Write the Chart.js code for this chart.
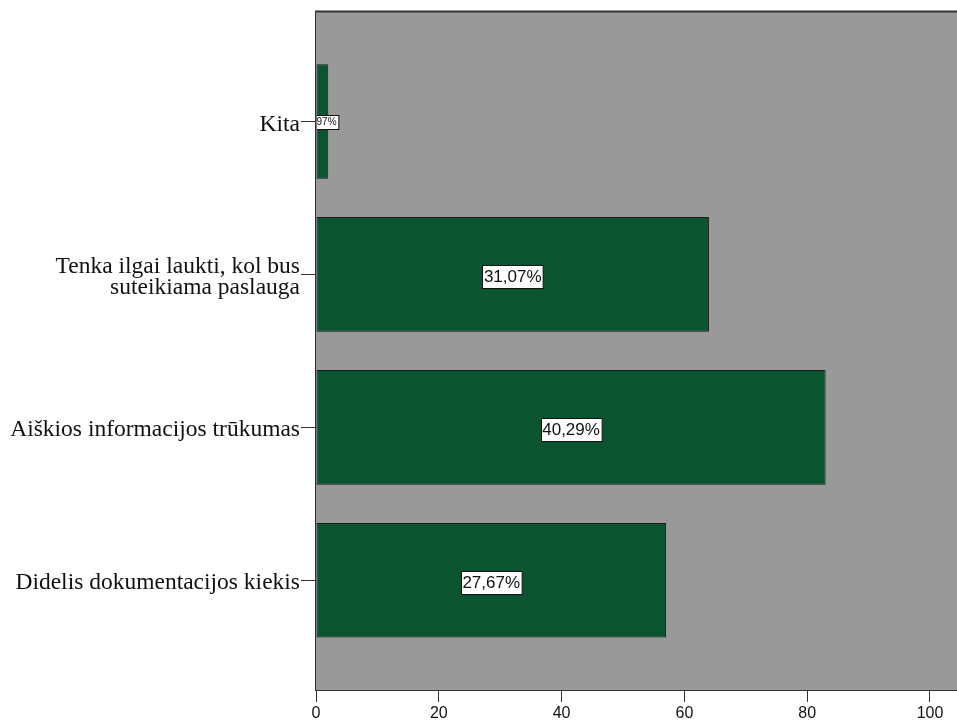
<!DOCTYPE html>
<html>
<head>
<meta charset="utf-8">
<script src="https://cdn.jsdelivr.net/npm/chart.js@4.4.1/dist/chart.umd.min.js"></script>
<style>
  html, body { margin: 0; padding: 0; background: #ffffff; }
  #wrap { width: 957px; height: 723px; }
</style>
</head>
<body>
<div id="wrap"><canvas id="c" width="957" height="723"></canvas></div>
<script>
// Categories top to bottom, respondent counts, x-axis ticks
const categories = [
  'Kita',
  ['Tenka ilgai laukti, kol bus', 'suteikiama paslauga'],
  'Aiškios informacijos trūkumas',
  'Didelis dokumentacijos kiekis'
];
const counts = [2, 64, 83, 57];
const xTicks = [0, 20, 40, 60, 80, 100];

const total = counts.reduce((a, b) => a + b, 0);
const pctLabel = v => (v / total * 100).toFixed(2).replace('.', ',') + '%';

const PLOT_BG = '#999999';
const FRAME = '#333333';

// Gray plot background, top frame line and boxed percentage labels
const plotFrame = {
  id: 'plotFrame',
  beforeDatasetsDraw(chart) {
    const { ctx, chartArea: a } = chart;
    ctx.save();
    ctx.fillStyle = PLOT_BG;
    ctx.fillRect(a.left, a.top, a.right - a.left, a.bottom - a.top);
    ctx.restore();
  },
  afterDatasetsDraw(chart) {
    const { ctx, chartArea: a } = chart;
    const meta = chart.getDatasetMeta(0);
    ctx.save();
    ctx.beginPath();
    ctx.rect(a.left + 1, a.top, a.right - a.left, a.bottom - a.top);
    ctx.clip();
    meta.data.forEach((el, i) => {
      const len = Math.abs(el.x - el.base);
      const fs = len < 40 ? 10 : 17;
      const text = pctLabel(counts[i]);
      ctx.font = fs + 'px "Liberation Sans", Arial, sans-serif';
      const w = ctx.measureText(text).width;
      const h = Math.round(fs * 1.35);
      const cx = (el.x + el.base) / 2;
      const cy = el.y + (fs > 12 ? 2 : 0);
      const bx = Math.round(cx - w / 2 - 1.5) + 0.5;
      const by = Math.round(cy - h / 2) + 0.5;
      ctx.fillStyle = '#ffffff';
      ctx.fillRect(bx, by, w + 3, h);
      ctx.strokeStyle = '#111111';
      ctx.lineWidth = 1;
      ctx.strokeRect(bx, by, w + 3, h);
      ctx.fillStyle = '#111111';
      ctx.textAlign = 'center';
      ctx.textBaseline = 'middle';
      ctx.fillText(text, cx, cy + 1);
    });
    ctx.restore();
  },
  afterDraw(chart) {
    const { ctx, chartArea: a } = chart;
    ctx.save();
    ctx.strokeStyle = FRAME;
    ctx.lineWidth = 2;
    ctx.beginPath();
    ctx.moveTo(a.left - 1, a.top);
    ctx.lineTo(a.right, a.top);
    ctx.stroke();
    ctx.restore();
  }
};

new Chart(document.getElementById('c'), {
  type: 'bar',
  data: {
    datasets: [{
      data: counts.map((v, i) => ({ x: v, y: i })),
      backgroundColor: '#0b5430',
      borderColor: '#1a1a1a',
      borderWidth: 1,
      borderSkipped: false,
      categoryPercentage: 0.75,
      barPercentage: 1.0
    }]
  },
  options: {
    indexAxis: 'y',
    responsive: false,
    animation: false,
    devicePixelRatio: 1,
    layout: { padding: { top: 10, left: 0, right: 0, bottom: 0 } },
    plugins: { legend: { display: false }, tooltip: { enabled: false } },
    scales: {
      x: {
        type: 'linear',
        position: 'bottom',
        min: 0,
        max: 104.4,
        bounds: 'data',
        offset: false,
        afterBuildTicks: s => { s.ticks = xTicks.map(v => ({ value: v })); },
        afterFit: s => { s.height = 33; },
        grid: { display: true, offset: false, drawOnChartArea: false, drawTicks: true, tickLength: 12, color: FRAME, lineWidth: 1 },
        border: { display: true, color: FRAME, width: 2 },
        ticks: {
          autoSkip: false, maxRotation: 0, padding: 2, color: '#111111',
          font: { family: '"Liberation Sans", Arial, sans-serif', size: 16 }
        }
      },
      y: {
        type: 'linear',
        position: 'left',
        reverse: true,
        min: -0.719,
        max: 3.718,
        bounds: 'data',
        offset: false,
        afterBuildTicks: s => { s.ticks = categories.map((_, i) => ({ value: i })); },
        afterFit: s => { s.width = 316; },
        grid: { display: true, offset: false, drawOnChartArea: false, drawTicks: true, tickLength: 15, color: FRAME, lineWidth: 1 },
        border: { display: true, color: FRAME, width: 2 },
        ticks: {
          autoSkip: false, padding: 1, labelOffset: 3, color: '#111111',
          callback: v => categories[v],
          font: { family: '"Liberation Serif", "Times New Roman", serif', size: 23.5, lineHeight: 0.9 }
        }
      }
    }
  },
  plugins: [plotFrame]
});
</script>
</body>
</html>
